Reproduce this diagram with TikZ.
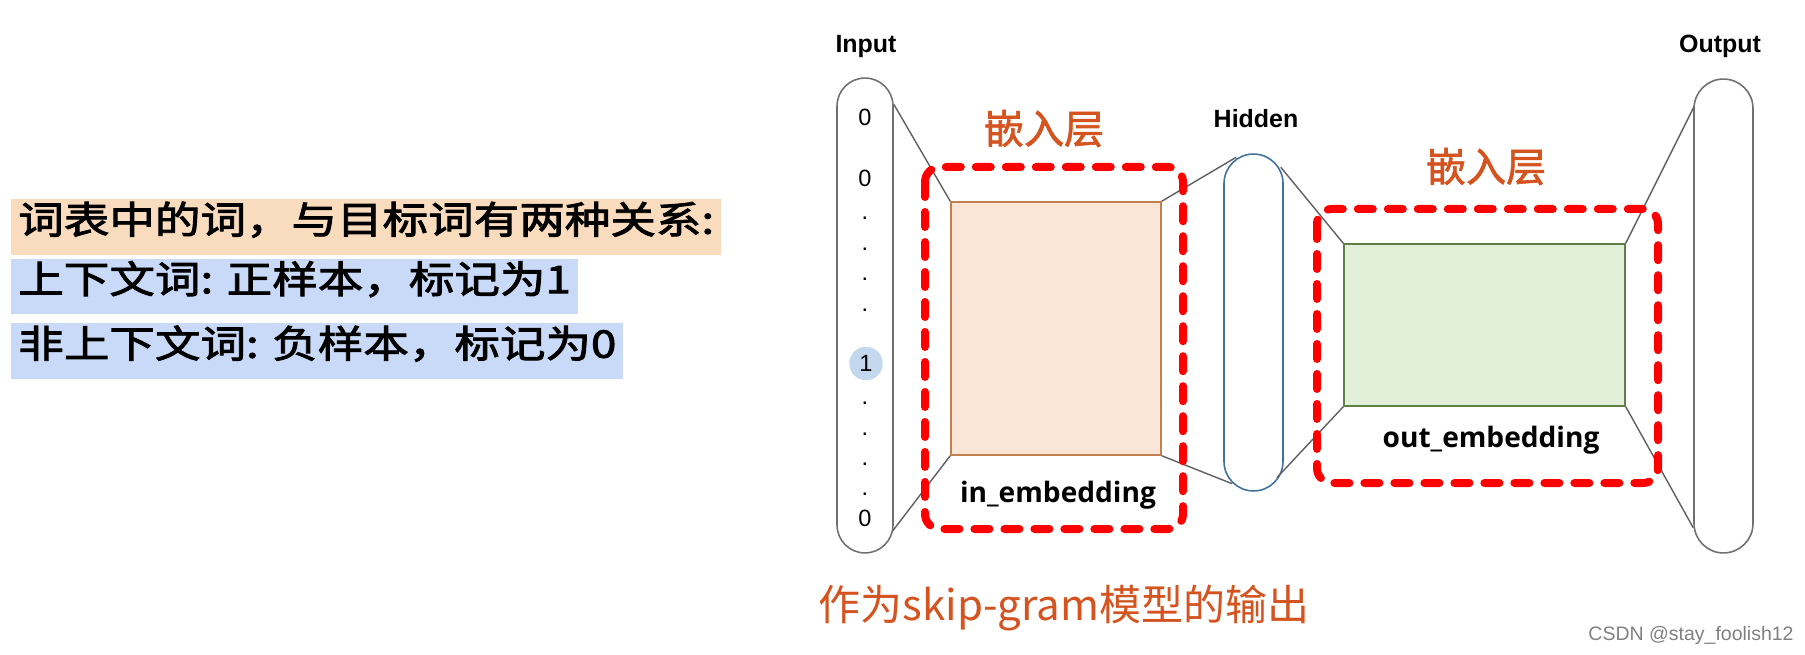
\documentclass[tikz,border=0pt]{standalone}
\usepackage{fontspec}
\setmainfont{Liberation Sans}
\newfontfamily\cjkwide{Noto Sans CJK SC}[FakeStretch=1.2,FakeBold=2.4]
\newfontfamily\cjkbold{Noto Sans CJK SC}[FakeBold=1.6]
\newfontfamily\cjk{Noto Sans CJK SC}
\newfontfamily\opensans{Open Sans}
\usepackage{tikz}
\usetikzlibrary{calc}
\definecolor{peachbg}{HTML}{F9DCBE}
\definecolor{bluebg}{HTML}{C9DAF8}
\definecolor{inface}{HTML}{FBE5D6}
\definecolor{inedge}{HTML}{C0814E}
\definecolor{outface}{HTML}{E2F0D9}
\definecolor{outedge}{HTML}{5E7F48}
\definecolor{hidedge}{HTML}{41719C}
\definecolor{pillgray}{HTML}{707070}
\definecolor{wiregray}{HTML}{606060}
\definecolor{orangetxt}{HTML}{D4531F}
\definecolor{onefill}{HTML}{C3D8EE}

\begin{document}
\begin{tikzpicture}[x=0.02cm,y=-0.02cm,
  rel/.style={anchor=west,inner xsep=0.14cm,inner ysep=0pt,minimum height=1.12cm,
    text height=0.88em,text depth=0.12em,font=\cjkwide\fontsize{21.6}{26}\selectfont},
  pill/.style={draw=pillgray,line width=0.9pt,inner sep=0pt},
  layer/.style={font=\bfseries\fontsize{14.2}{17}\selectfont},
  digit/.style={font=\fontsize{13.4}{16}\selectfont,inner sep=0pt},
  emb/.style={line width=0.9pt,inner sep=0pt},
  embname/.style={anchor=base,font=\opensans\bfseries\fontsize{16}{19}\selectfont},
  tag/.style={text=orangetxt,font=\cjkbold\fontsize{22.8}{27}\selectfont},
  wire/.style={draw=wiregray,line width=0.8pt},
  redbox/.style={draw=red,line width=0.16cm,line cap=round,dash pattern=on 0.3cm off 0.3cm,rounded corners=0.3cm}]
\useasboundingbox (0,0) rectangle (1805,655);

\node[rel,fill=peachbg] (rel) at (11,227) {词表中的词，与目标词有两种关系:};
\node[rel,fill=bluebg] (pos) at (11,286.5) {上下文词: 正样本，标记为1};
\node[rel,fill=bluebg] (neg) at (11,351) {非上下文词: 负样本，标记为0};

% input column
\node[pill,rounded corners=0.56cm,minimum width=1.12cm,minimum height=9.5cm] (inp) at (865,315.5) {};
\node[layer] (inlabel) at (866,47) {Input};
\node[digit] (d1) at (865,117.5) {0};
\node[digit] (d2) at (865,178.5) {0};
\node[digit,circle,fill=onefill,minimum size=0.67cm] (one) at (866,363.5) {1};
\node[digit] (d3) at (865,518.5) {0};
\foreach \y [count=\i] in {216.7,247.7,278,309,401.7,432.7,463,493}
  \node[digit,anchor=base] (dot\i) at (865,\y+2.5) {.};

\node[emb,draw=inedge,fill=inface,minimum width=4.2cm,minimum height=5.06cm] (embin) at (1056,328.5) {};
\node[embname] (inname) at (1058,502) {in\_embedding};
\node[tag] (tagin) at (1044,128.5) {嵌入层};

% hidden column
\node[pill,draw=hidedge,rounded corners=0.59cm,minimum width=1.18cm,minimum height=6.74cm] (hid) at (1253.5,322.5) {};
\node[layer] (hidlabel) at (1256,119) {Hidden};

\node[emb,draw=outedge,fill=outface,minimum width=5.62cm,minimum height=3.24cm] (embout) at (1484.5,325) {};
\node[embname] (outname) at (1491,447) {out\_embedding};
\node[tag] (tagout) at (1486,166.5) {嵌入层};

% output column
\node[pill,rounded corners=0.59cm,minimum width=1.18cm,minimum height=9.48cm] (outp) at (1723.5,316) {};
\node[layer] (outlabel) at (1720,46) {Output};

\draw[wire] ($(inp.north east)+(0,27)$) -- (embin.north west);
\draw[wire] ($(inp.south east)+(-1,-23)$) -- (embin.south west);
\draw[wire] (embin.north east) -- ($(hid.north west)+(13,4)$);
\draw[wire] (embin.south east) -- ($(hid.south west)+(9,-8)$);
\draw[wire] ($(hid.north east)+(-3,14)$) -- (embout.north west);
\draw[wire] ($(hid.south east)+(-7,-14)$) -- (embout.south west);
\draw[wire] (embout.north east) -- ($(outp.north west)+(1,28)$);
\draw[wire] (embout.south east) -- ($(outp.south west)+(0,-26)$);

\draw[redbox] (925,167) rectangle (1183,529);
\draw[redbox] (1317,209) rectangle (1658,483);

\node[anchor=base,text=orangetxt,font=\cjk\fontsize{23.9}{28}\selectfont] (note) at (1064,620) {作为skip-gram模型的输出};
\node[text=gray,font=\fontsize{11.1}{13}\selectfont] (mark) at (1691,635) {CSDN @stay\_foolish12};
\end{tikzpicture}
\end{document}
